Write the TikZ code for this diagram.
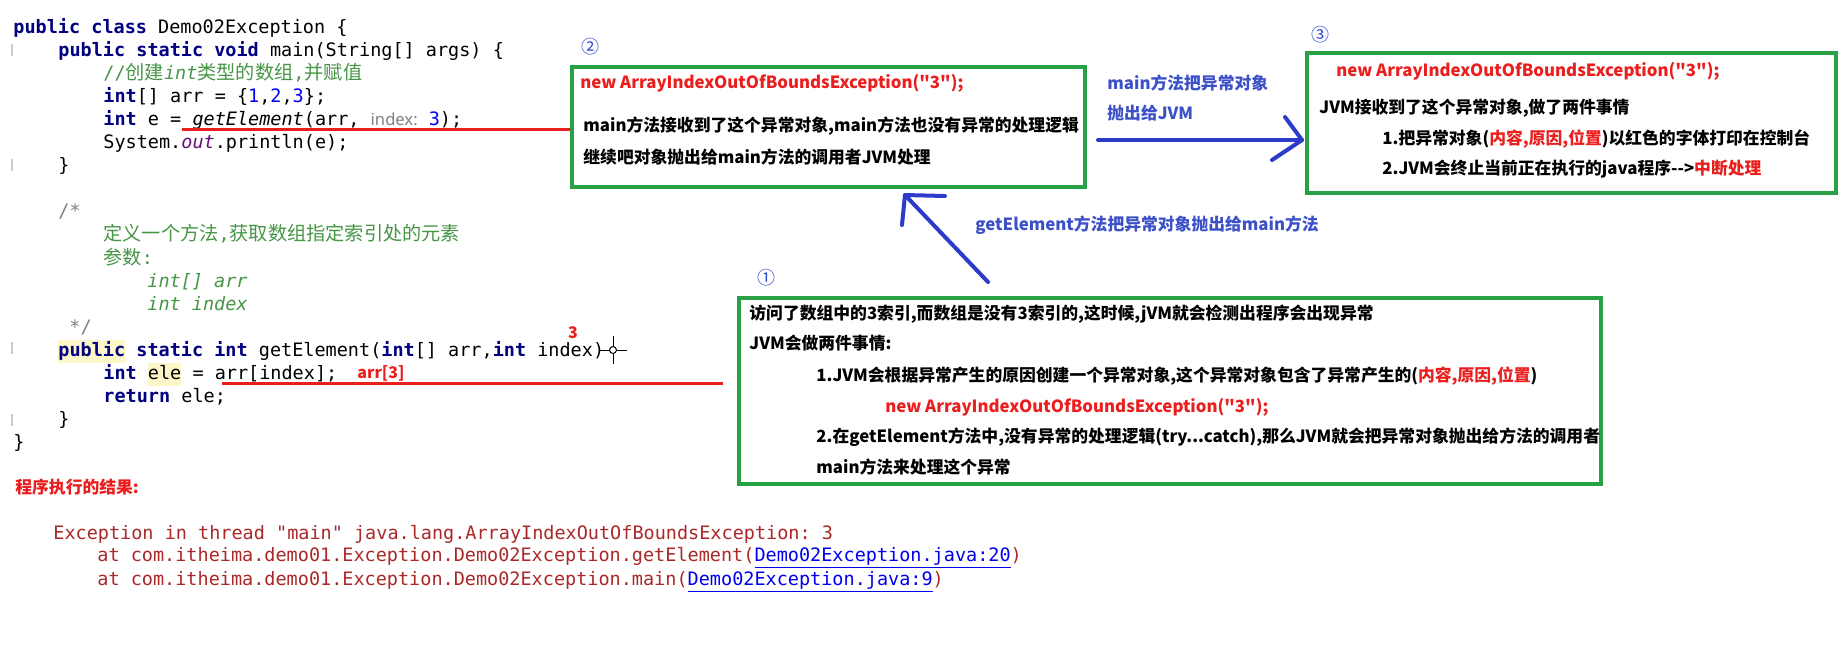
\documentclass[tikz,border=0pt]{standalone}
\usepackage{fontspec}
\setmonofont{DejaVu Sans Mono}
\newfontfamily\cjkfont{Noto Sans CJK SC}
\newfontfamily\hintfont{Noto Sans}
\usetikzlibrary{calc}

\definecolor{boxgreen}{RGB}{40,160,70}
\definecolor{arrowblue}{RGB}{45,60,200}
\definecolor{noteblue}{RGB}{60,80,200}
\definecolor{circblue}{RGB}{40,70,210}
\definecolor{markred}{RGB}{235,30,30}
\definecolor{kwnavy}{RGB}{0,0,128}
\definecolor{numblue}{RGB}{0,0,255}
\definecolor{cmtgreen}{RGB}{70,150,70}
\definecolor{cmtgrey}{RGB}{128,128,128}
\definecolor{fieldpurple}{RGB}{102,14,122}
\definecolor{hlyellow}{RGB}{252,246,200}
\definecolor{errred}{RGB}{170,40,40}
\definecolor{linkblue}{RGB}{0,0,238}

\newcommand\codefont{\fontsize{9.25pt}{11.5pt}\selectfont\ttfamily}
\newcommand\notefont{\cjkfont\bfseries\fontsize{8.4pt}{10pt}\selectfont}
\newcommand\kw[1]{\textcolor{kwnavy}{\bfseries #1}}
\newcommand\nm[1]{\textcolor{numblue}{#1}}
\newcommand\zh[1]{{\cjkfont\fontsize{9.6pt}{11.5pt}\selectfont #1}}
\newcommand\hlbox[1]{{\setlength\fboxsep{0pt}\colorbox{hlyellow}{\strut #1}}}
\newcommand\rd[1]{\textcolor{markred}{#1}}
\newcommand\lnk[1]{\textcolor{linkblue}{\underline{#1}}}

\tikzset{
  code/.style={anchor=base west, inner sep=0pt, font=\codefont},
  note/.style={anchor=base west, inner sep=0pt, font=\notefont},
  bluenote/.style={note, text=noteblue},
  circ/.style={inner sep=0pt, text=circblue, font=\cjkfont\fontsize{9pt}{10pt}\selectfont},
  tag/.style={inner sep=0pt, text=markred, font=\cjkfont\bfseries\fontsize{8pt}{9pt}\selectfont},
  gbox/.style={draw=boxgreen, line width=1.75pt, fill=none},
  redline/.style={draw=markred, line width=1.5pt},
  bluearrow/.style={draw=arrowblue, line width=2pt, line cap=round, line join=round},
  gutter/.style={draw=black!20, line width=0.6pt},
}

\begin{document}
\begin{tikzpicture}[x=0.5pt, y=-0.5pt]
 \path[use as bounding box, fill=white] (0,0) rectangle (1844,661);

 % source code
 \node[code] (l0) at (13,33) {\kw{public} \kw{class} Demo02Exception \{};
 \node[code] (l1) at (58,56.1) {\kw{public} \kw{static} \kw{void} main(String[] args) \{};
 \node[code] (l2) at (103,79.2) {\textcolor{cmtgreen}{//\zh{创建}\textit{int}\zh{类型的数组},\zh{并赋值}}};
 \node[code] (l3) at (103,102.3) {\kw{int}[] arr = \{\nm{1},\nm{2},\nm{3}\};};
 \node[code] (l4) at (103,125.4) {\kw{int} e = \textit{getElement}(arr, {\hintfont\fontsize{8.3pt}{10pt}\selectfont\color{cmtgrey}index:} \nm{3});};
 \node[code] (l5) at (103,148.5) {System.\textcolor{fieldpurple}{\textit{out}}.println(e);};
 \node[code] (l6) at (58,171.6) {\}};
 \node[code] (l8) at (58,217.8) {\textcolor{cmtgrey}{/*}};
 \node[code] (l9) at (103,240.9) {\textcolor{cmtgreen}{\zh{定义一个方法},\zh{获取数组指定索引处的元素}}};
 \node[code] (l10) at (103,264) {\textcolor{cmtgreen}{\zh{参数}:}};
 \node[code] (l11) at (147,287.1) {\textcolor{cmtgreen}{\itshape int[] arr}};
 \node[code] (l12) at (147,310.2) {\textcolor{cmtgreen}{\itshape int index}};
 \node[code] (l13) at (69,333.3) {\textcolor{cmtgrey}{*/}};
 \node[code] (l14) at (58,356.4) {\hlbox{\kw{public}} \kw{static} \kw{int} getElement(\kw{int}[] arr,\kw{int} index)};
 \node[code] (l15) at (103,379.5) {\kw{int} \hlbox{ele} = arr[index];};
 \node[code] (l16) at (103,402.6) {\kw{return} ele;};
 \node[code] (l17) at (58,425.7) {\}};
 \node[code] (l18) at (13,448.8) {\}};
 \foreach \gy in {50,165,348,420}
   \draw[gutter] (12,\gy-6) -- (12,\gy+6);

 \node[tag] (three) at (573,333) {3};
 \node[tag, anchor=west] (arr3) at (357,373) {arr[3]};

 % mouse cursor
 \draw[black, line width=0.5pt] (613,336) -- (613,364);
 \draw[black, line width=0.5pt] (600,350) -- (627,350);
 \draw[black, line width=0.5pt, fill=white] (613,350) circle[radius=3.5];

 % console output
 \node[note, text=markred] (res) at (15,493.5) {程序执行的结果:};
 \node[code, text=errred] (e1) at (53,539) {Exception in thread "main" java.lang.ArrayIndexOutOfBoundsException: 3};
 \node[code, text=errred] (e2) at (97,561) {at com.itheima.demo01.Exception.Demo02Exception.getElement(\lnk{Demo02Exception.java:20})};
 \node[code, text=errred] (e3) at (97,585) {at com.itheima.demo01.Exception.Demo02Exception.main(\lnk{Demo02Exception.java:9})};

 % boxes
 \node[gbox, minimum width=256.5pt, minimum height=60pt] (box2) at (828.5,127) {};
 \node[gbox, minimum width=264.5pt, minimum height=70pt] (box3) at (1571.5,123) {};
 \node[gbox, minimum width=431pt, minimum height=93pt] (box1) at (1170,391) {};

 \node[circ] (n2) at (590,47) {②};
 \node[circ] (n3) at (1320,35) {③};
 \node[circ] (n1) at (766,278) {①};

 \node[note, text=markred] (b2a) at (580,88.5) {new ArrayIndexOutOfBoundsException("3");};
 \node[note] (b2b) at (583,131) {main方法接收到了这个异常对象,main方法也没有异常的处理逻辑};
 \node[note] (b2c) at (583,163) {继续吧对象抛出给main方法的调用者JVM处理};

 \node[note, text=markred] (b3a) at (1336,76.5) {new ArrayIndexOutOfBoundsException("3");};
 \node[note] (b3b) at (1319,113.5) {JVM接收到了这个异常对象,做了两件事情};
 \node[note] (b3c) at (1382,144.5) {1.把异常对象(\rd{内容,原因,位置})以红色的字体打印在控制台};
 \node[note] (b3d) at (1382,174.5) {2.JVM会终止当前正在执行的java程序-{}->\rd{中断处理}};

 \node[note] (b1a) at (749,319.5) {访问了数组中的3索引,而数组是没有3索引的,这时候,jVM就会检测出程序会出现异常};
 \node[note] (b1b) at (749,349.5) {JVM会做两件事情:};
 \node[note] (b1c) at (816,381) {1.JVM会根据异常产生的原因创建一个异常对象,这个异常对象包含了异常产生的(\rd{内容,原因,位置})};
 \node[note, text=markred] (b1d) at (885,412) {new ArrayIndexOutOfBoundsException("3");};
 \node[note] (b1e) at (816,442.5) {2.在getElement方法中,没有异常的处理逻辑(try...catch),那么JVM就会把异常对象抛出给方法的调用者};
 \node[note] (b1f) at (816,473.5) {main方法来处理这个异常};

 \node[bluenote] (t2a) at (1107,89.5) {main方法把异常对象};
 \node[bluenote] (t2b) at (1107,119.5) {抛出给JVM};
 \node[bluenote] (t1) at (975,230.5) {getElement方法把异常对象抛出给main方法};

 % red marks from the code to the boxes
 \coordinate (r1) at (182,129);
 \draw[redline] (r1) -- (r1 -| box2.west);
 \coordinate (r2s) at (222,383);
 \coordinate (r2e) at (723,383);
 \draw[redline] (r2s) -- (r2e);

 % hand drawn arrows
 \coordinate (a1s) at (988,282);
 \coordinate (a1t) at (905,195);
 \draw[bluearrow] (a1s) -- (a1t) -- ++(40,1);
 \draw[bluearrow] (a1t) -- ++(-3,30);
 \coordinate (a2s) at (1098,140);
 \coordinate (a2t) at (1302,140);
 \draw[bluearrow] (a2s) -- (a2t);
 \draw[bluearrow] ($(a2t)+(-17,-23)$) -- (a2t) -- ++(-30,20);
\end{tikzpicture}
\end{document}
